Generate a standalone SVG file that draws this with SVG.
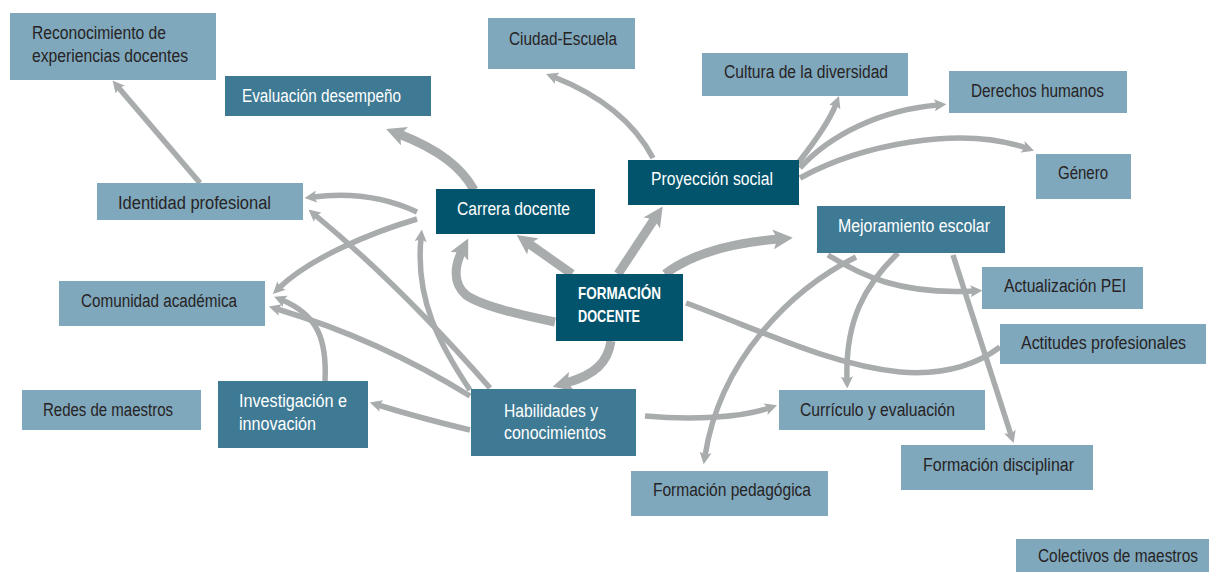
<svg xmlns="http://www.w3.org/2000/svg" width="1209" height="572" viewBox="0 0 1209 572">
<style>
.lt{fill:#80a8bc}
.md{fill:#3e7a94}
.dk{fill:#02546d}
text{font-family:"Liberation Sans",Arial,sans-serif;font-size:18px}
.tl{fill:#262324}
.tw{fill:#ffffff}
.b{font-weight:bold;font-size:17px}
.c{fill:none;stroke:#a8acad;stroke-linecap:butt}
.th{stroke-width:9}
.tn{stroke-width:5.5}
</style>
<defs>
<marker id="ah" viewBox="0 0 10 10" refX="3" refY="5" markerWidth="2.2" markerHeight="2.2" markerUnits="strokeWidth" orient="auto">
<path d="M0,0 L10,5 L0,10 L2.2,5 Z" fill="#a8acad"/>
</marker>
</defs>
<rect width="1209" height="572" fill="#ffffff"/>
<g id="connectors">
<path class="c tn" d="M200,183 L118,87" marker-end="url(#ah)"/>
<path class="c th" d="M474,190 C462,168 440,150 399,134" marker-end="url(#ah)"/>
<path class="c th" d="M572,274 L528,243" marker-end="url(#ah)"/>
<path class="c th" d="M555,322 C520,315 480,305 466,295 C452,283 455,265 462,251" marker-end="url(#ah)"/>
<path class="c th" d="M618,274 L655,218" marker-end="url(#ah)"/>
<path class="c th" d="M665,274 C690,255 730,243 779,239" marker-end="url(#ah)"/>
<path class="c th" d="M611,341 C608,362 595,375 566,383" marker-end="url(#ah)"/>
<path class="c tn" d="M653,158 Q625,105 554,77" marker-end="url(#ah)"/>
<path class="c tn" d="M798,163 Q828,125 836,104" marker-end="url(#ah)"/>
<path class="c tn" d="M800,168 C830,135 880,110 938,105" marker-end="url(#ah)"/>
<path class="c tn" d="M800,178 C860,145 960,125 1026,148" marker-end="url(#ah)"/>
<path class="c tn" d="M417,212 Q370,190 313,197" marker-end="url(#ah)"/>
<path class="c tn" d="M417,219 C370,233 310,258 279,288" marker-end="url(#ah)"/>
<path class="c tn" d="M490,388 Q400,285 315,215" marker-end="url(#ah)"/>
<path class="c tn" d="M470,390 C440,345 415,300 421,238" marker-end="url(#ah)"/>
<path class="c tn" d="M470,396 Q380,340 277,309" marker-end="url(#ah)"/>
<path class="c tn" d="M325,381 C327,340 318,315 282,300" marker-end="url(#ah)"/>
<path class="c tn" d="M470,430 Q420,418 378,405" marker-end="url(#ah)"/>
<path class="c tn" d="M645,416 C690,420 740,418 769,408" marker-end="url(#ah)"/>
<path class="c tn" d="M828,255 C860,275 900,295 974,291" marker-end="url(#ah)"/>
<path class="c tn" d="M856,257 C790,290 720,360 705,456" marker-end="url(#ah)"/>
<path class="c tn" d="M898,253 C865,285 845,320 847,380" marker-end="url(#ah)"/>
<path class="c tn" d="M953,255 L1011,435" marker-end="url(#ah)"/>
<path class="c tn" d="M686,303 C760,330 830,365 900,372 C950,376 980,362 1000,347"/>
</g>
<g id="reconocimiento"><rect class="lt" x="10" y="13" width="206" height="67"/><text class="tl" x="32" y="39" textLength="134" lengthAdjust="spacingAndGlyphs">Reconocimiento de</text><text class="tl" x="32" y="62" textLength="156" lengthAdjust="spacingAndGlyphs">experiencias docentes</text></g>
<g id="evaluacion"><rect class="md" x="225" y="76" width="206" height="40"/><text class="tw" x="242" y="102" textLength="159" lengthAdjust="spacingAndGlyphs">Evaluación desempeño</text></g>
<g id="ciudad"><rect class="lt" x="488" y="18" width="147" height="51"/><text class="tl" x="509" y="45" textLength="108" lengthAdjust="spacingAndGlyphs">Ciudad-Escuela</text></g>
<g id="cultura"><rect class="lt" x="702" y="53" width="206" height="43"/><text class="tl" x="724" y="78" textLength="164" lengthAdjust="spacingAndGlyphs">Cultura de la diversidad</text></g>
<g id="derechos"><rect class="lt" x="949" y="71" width="178" height="42"/><text class="tl" x="971" y="97" textLength="133" lengthAdjust="spacingAndGlyphs">Derechos humanos</text></g>
<g id="genero"><rect class="lt" x="1036" y="154" width="95" height="45"/><text class="tl" x="1058" y="179" textLength="50" lengthAdjust="spacingAndGlyphs">Género</text></g>
<g id="proyeccion"><rect class="dk" x="628" y="160" width="171" height="45"/><text class="tw" x="651" y="185" textLength="122" lengthAdjust="spacingAndGlyphs">Proyección social</text></g>
<g id="carrera"><rect class="dk" x="436" y="189" width="159" height="45"/><text class="tw" x="457" y="215" textLength="113" lengthAdjust="spacingAndGlyphs">Carrera docente</text></g>
<g id="mejoramiento"><rect class="md" x="817" y="206" width="188" height="47"/><text class="tw" x="838" y="232" textLength="152" lengthAdjust="spacingAndGlyphs">Mejoramiento escolar</text></g>
<g id="identidad"><rect class="lt" x="97" y="183" width="206" height="37"/><text class="tl" x="118" y="209" textLength="153" lengthAdjust="spacingAndGlyphs">Identidad profesional</text></g>
<g id="formacion"><rect class="dk" x="556" y="274" width="127" height="67"/><text class="tw b" x="578" y="299" textLength="83" lengthAdjust="spacingAndGlyphs">FORMACIÓN</text><text class="tw b" x="578" y="322" textLength="62" lengthAdjust="spacingAndGlyphs">DOCENTE</text></g>
<g id="actualizacion"><rect class="lt" x="982" y="267" width="161" height="42"/><text class="tl" x="1004" y="292" textLength="122" lengthAdjust="spacingAndGlyphs">Actualización PEI</text></g>
<g id="comunidad"><rect class="lt" x="59" y="281" width="206" height="45"/><text class="tl" x="81" y="307" textLength="156" lengthAdjust="spacingAndGlyphs">Comunidad académica</text></g>
<g id="actitudes"><rect class="lt" x="1000" y="324" width="206" height="40"/><text class="tl" x="1021" y="349" textLength="165" lengthAdjust="spacingAndGlyphs">Actitudes profesionales</text></g>
<g id="redes"><rect class="lt" x="22" y="390" width="179" height="40"/><text class="tl" x="43" y="416" textLength="130" lengthAdjust="spacingAndGlyphs">Redes de maestros</text></g>
<g id="investigacion"><rect class="md" x="218" y="381" width="150" height="67"/><text class="tw" x="239" y="407" textLength="108" lengthAdjust="spacingAndGlyphs">Investigación e</text><text class="tw" x="239" y="430" textLength="77" lengthAdjust="spacingAndGlyphs">innovación</text></g>
<g id="habilidades"><rect class="md" x="471" y="389" width="165" height="67"/><text class="tw" x="504" y="417" textLength="94" lengthAdjust="spacingAndGlyphs">Habilidades y</text><text class="tw" x="504" y="439" textLength="102" lengthAdjust="spacingAndGlyphs">conocimientos</text></g>
<g id="curriculo"><rect class="lt" x="779" y="390" width="206" height="40"/><text class="tl" x="800" y="416" textLength="155" lengthAdjust="spacingAndGlyphs">Currículo y evaluación</text></g>
<g id="disciplinar"><rect class="lt" x="901" y="445" width="192" height="45"/><text class="tl" x="923" y="471" textLength="151" lengthAdjust="spacingAndGlyphs">Formación disciplinar</text></g>
<g id="pedagogica"><rect class="lt" x="631" y="471" width="197" height="45"/><text class="tl" x="653" y="496" textLength="158" lengthAdjust="spacingAndGlyphs">Formación pedagógica</text></g>
<g id="colectivos"><rect class="lt" x="1016" y="539" width="193" height="33"/><text class="tl" x="1038" y="562" textLength="160" lengthAdjust="spacingAndGlyphs">Colectivos de maestros</text></g>
</svg>
